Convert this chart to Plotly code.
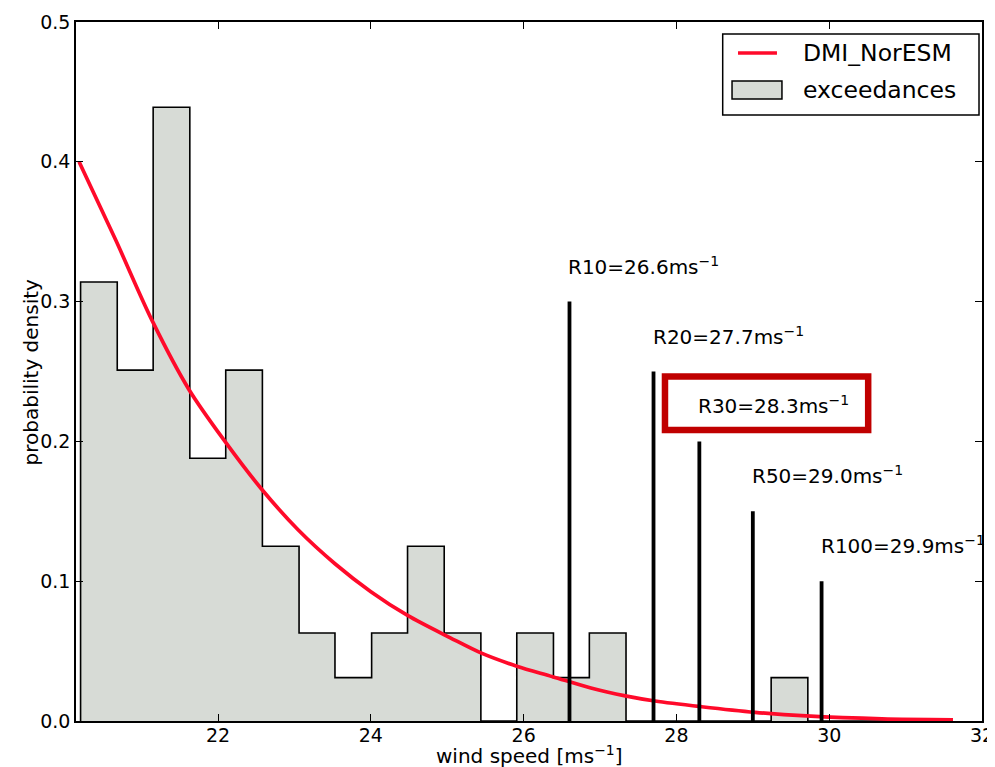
import plotly.graph_objects as go

# ---------------- data ----------------
bin_edges = [20.20, 20.68, 21.15, 21.63, 22.10, 22.58, 23.06, 23.53, 24.01, 24.48,
             24.96, 25.44, 25.91, 26.39, 26.86, 27.34, 27.82, 28.29, 28.77, 29.24,
             29.72, 30.20, 30.67, 31.15, 31.62]
exceed_density = [0.314, 0.251, 0.439, 0.188, 0.251, 0.125, 0.063, 0.031, 0.063, 0.125,
                  0.063, 0.0, 0.063, 0.031, 0.063, 0.0, 0.0, 0.0, 0.0, 0.031,
                  0.0, 0.0, 0.0, 0.0]

fit_x = [20.18, 20.66, 21.14, 21.62, 22.09, 22.56, 23.05, 23.53, 24.00, 24.48, 25.04,
         25.44, 25.91, 26.38, 26.88, 27.33, 27.72, 28.33, 29.03, 29.70, 30.69, 31.62]
fit_y = [0.400, 0.344, 0.286, 0.237, 0.200, 0.1665, 0.1366, 0.1125, 0.0925, 0.0755, 0.0595,
         0.0487, 0.0392, 0.0317, 0.0236, 0.0180, 0.0143, 0.0102, 0.0062, 0.0036, 0.0015, 0.0009]

return_periods = ["R10", "R20", "R30", "R50", "R100"]
return_levels = [26.6, 27.7, 28.3, 29.0, 29.9]
marker_heights = [0.30, 0.25, 0.20, 0.15, 0.10]
highlight_period = "R30"

series_names = ["DMI_NorESM", "exceedances"]

x_ticks = [22, 24, 26, 28, 30, 32]
y_ticks = [0.0, 0.1, 0.2, 0.3, 0.4, 0.5]

# ---------------- styles ----------------
FONT = "DejaVu Sans"
RED = "#ff0a2a"
FILL = "#d7dbd6"

fig = go.Figure()

# stepfilled histogram
step_x = [bin_edges[0]] + bin_edges
step_y = [0.0] + exceed_density + [0.0]
fig.add_trace(go.Scatter(
    x=step_x, y=step_y, mode="lines", line=dict(shape="hv", color="black", width=1.6),
    fill="tozeroy", fillcolor=FILL, name=series_names[1], showlegend=False,
))

# fitted density
fig.add_trace(go.Scatter(
    x=fit_x, y=fit_y, mode="lines", line=dict(color=RED, width=3.7, shape="spline", smoothing=0.9),
    name=series_names[0], showlegend=False,
))

# return level markers
vx, vy = [], []
for r, h in zip(return_levels, marker_heights):
    vx += [r, r, None]
    vy += [0.0, h, None]
fig.add_trace(go.Scatter(x=vx, y=vy, mode="lines", line=dict(color="black", width=3.8),
                         showlegend=False, hoverinfo="skip"))

for p, r, h in zip(return_periods, return_levels, marker_heights):
    fig.add_annotation(x=r, y=h + 0.025, xref="x", yref="y", xanchor="left", yanchor="middle",
                       text=f"{p}={r:.1f}ms<sup>−1</sup>", showarrow=False, xshift=-3, yshift=1,
                       font=dict(family=FONT, size=20, color="black"))

# highlight box around R30 label
i = return_periods.index(highlight_period)
fig.add_shape(type="rect", xref="x", yref="y",
              x0=27.85, x1=30.51, y0=marker_heights[i] + 0.0082, y1=marker_heights[i] + 0.0464,
              line=dict(color="#c00000", width=6.5), fillcolor="rgba(0,0,0,0)")

# ---------------- legend (drawn like matplotlib's) ----------------
fig.add_shape(type="rect", xref="paper", yref="paper", x0=0.7138, x1=0.9967, y0=0.867, y1=0.9828,
              line=dict(color="black", width=1.5), fillcolor="white", layer="above")
fig.add_shape(type="line", xref="paper", yref="paper", x0=0.7307, x1=0.7737, y0=0.9557, y1=0.9557,
              line=dict(color=RED, width=3.5), layer="above")
fig.add_shape(type="rect", xref="paper", yref="paper", x0=0.7241, x1=0.7792, y0=0.8898, y1=0.9156,
              line=dict(color="black", width=1.5), fillcolor=FILL, layer="above")
for name, yy in zip(series_names, [0.9557, 0.9027]):
    fig.add_annotation(x=0.8004, y=yy, xref="paper", yref="paper", xanchor="left", yanchor="middle",
                       text=name, showarrow=False,
                       font=dict(family=FONT, size=23.5, color="black"))

# ---------------- axis titles ----------------
fig.add_annotation(x=0.5, y=-0.048, xref="paper", yref="paper", xanchor="center", yanchor="middle",
                   text="wind speed [ms<sup>−1</sup>]", showarrow=False,
                   font=dict(family=FONT, size=20, color="black"))
fig.add_annotation(x=-0.0497, y=0.5, xref="paper", yref="paper", xanchor="center", yanchor="middle",
                   text="probability density", showarrow=False, textangle=-90,
                   font=dict(family=FONT, size=20, color="black"))

axis_common = dict(showline=True, linecolor="black", linewidth=1.5, mirror="ticks",
                   ticks="inside", ticklen=7, tickwidth=1, tickcolor="black",
                   showgrid=False, zeroline=False, automargin=False,
                   tickfont=dict(family=FONT, size=19, color="black"))

# the page body adds an 8px offset; the figure is sized so the plot area lands
# at the same place as in the 995x767 reference
fig.update_layout(
    width=987, height=759,
    margin=dict(l=68, r=13, t=14, b=46),
    paper_bgcolor="white", plot_bgcolor="white",
    font=dict(family=FONT, color="black"),
    xaxis=dict(range=[20.14, 32], tickvals=x_ticks, ticktext=[str(t) for t in x_ticks],
               ticklabelstandoff=-4, **axis_common),
    yaxis=dict(range=[0, 0.5], tickvals=y_ticks, ticktext=[f"{t:.1f}" for t in y_ticks],
               **axis_common),
    showlegend=False,
)

fig.write_html("out.html")
